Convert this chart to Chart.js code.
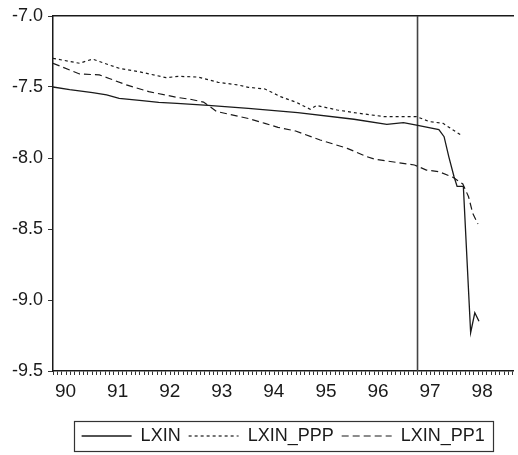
<!DOCTYPE html>
<html>
<head>
<meta charset="utf-8">
<script src="https://cdn.jsdelivr.net/npm/chart.js@4"></script>
<style>
  html, body { margin: 0; padding: 0; background: #fff; }
  #wrap { width: 518px; height: 455px; position: relative; }
</style>
</head>
<body>
<div id="wrap"><canvas id="chart"></canvas></div>
<script>
// monthly series, x in decimal years (90 = 1990:01)
const lxinX = [90.00, 90.32, 90.76, 91.03, 91.27, 91.71, 92.03, 92.38, 92.98, 93.75, 94.70, 95.78,
  96.41, 96.73, 96.98, 97.41, 97.51, 97.60, 97.70, 97.76, 97.88, 98.02, 98.10, 98.18];
const lxinY = [-7.500, -7.519, -7.540, -7.556, -7.580, -7.596, -7.608, -7.615, -7.630, -7.650, -7.680, -7.727,
  -7.763, -7.751, -7.768, -7.800, -7.850, -7.990, -8.130, -8.200, -8.200, -9.230, -9.090, -9.150];

const pppX = [90.00, 90.51, 90.76, 91.08, 91.27, 91.65, 92.17, 92.41, 92.79, 93.17, 93.56, 93.75,
  94.07, 94.37, 94.66, 94.94, 95.06, 95.46, 95.87, 96.35, 96.98, 97.22, 97.49, 97.83];
const pppY = [-7.298, -7.333, -7.303, -7.345, -7.368, -7.392, -7.434, -7.425, -7.430, -7.467, -7.486, -7.502,
  -7.514, -7.568, -7.606, -7.657, -7.630, -7.662, -7.685, -7.708, -7.708, -7.743, -7.756, -7.838];

const pp1X = [90.00, 90.51, 90.89, 91.08, 91.41, 91.84, 92.38, 92.66, 92.89, 93.14, 93.75, 94.07, 94.32,
  94.66, 95.13, 95.65, 96.03, 96.18, 96.94, 97.17, 97.41, 97.68, 97.87, 97.98, 98.06, 98.16];
const pp1Y = [-7.333, -7.408, -7.415, -7.440, -7.485, -7.533, -7.573, -7.588, -7.606, -7.672, -7.722, -7.756, -7.784,
  -7.810, -7.873, -7.932, -7.991, -8.009, -8.049, -8.085, -8.096, -8.136, -8.183, -8.273, -8.389, -8.465];

const markerX = [97, 97];
const markerY = [-7.0, -9.5];

const seriesNames = ["LXIN", "LXIN_PPP", "LXIN_PP1"];
const xMin = 90, xMax = 98.84;
const yMin = -9.5, yMax = -7.0;

const pts = (xs, ys) => xs.map((x, i) => ({ x, y: ys[i] }));
const ink = "#1a1a1a";
const font = { family: "'Liberation Sans', Arial, sans-serif", size: 18 };

// box around the legend, like the original
const legendFrame = {
  id: "legendFrame",
  afterDraw(chart) {
    const lg = chart.legend;
    if (!lg || !lg.legendHitBoxes || !lg.legendHitBoxes.length) return;
    const hb = lg.legendHitBoxes;
    const left = Math.min(...hb.map(h => h.left)) - 8;
    const right = Math.max(...hb.map(h => h.left + h.width)) + 8;
    const cy = hb[0].top + hb[0].height / 2;
    const ctx = chart.ctx;
    ctx.save();
    ctx.strokeStyle = "#333";
    ctx.lineWidth = 1.2;
    ctx.strokeRect(Math.round(left) + 0.5, Math.round(cy - 15) + 0.5, Math.round(right - left), 30);
    ctx.restore();
  }
};

new Chart(document.getElementById("chart"), {
  type: "line",
  data: {
    datasets: [
      { label: seriesNames[0], data: pts(lxinX, lxinY), borderColor: ink, borderWidth: 1.3, borderDash: [] },
      { label: seriesNames[1], data: pts(pppX, pppY), borderColor: ink, borderWidth: 1.2, borderDash: [3, 3] },
      { label: seriesNames[2], data: pts(pp1X, pp1Y), borderColor: ink, borderWidth: 1.2, borderDash: [7, 4] },
      { label: "", data: pts(markerX, markerY), borderColor: "#444", borderWidth: 1.6 }
    ]
  },
  options: {
    responsive: true,
    maintainAspectRatio: false,
    animation: false,
    elements: { point: { radius: 0 }, line: { tension: 0, fill: false } },
    layout: { padding: { top: 16, right: 0, bottom: 0, left: 0 } },
    plugins: {
      tooltip: { enabled: false },
      legend: {
        position: "bottom",
        fullSize: false,
        labels: {
          color: ink,
          font,
          usePointStyle: true,
          pointStyle: "line",
          pointStyleWidth: 50,
          padding: 8,
          filter: item => item.text !== "",
          generateLabels: chart => {
            const items = Chart.defaults.plugins.legend.labels.generateLabels(chart);
            items.forEach(it => {
              const ds = chart.data.datasets[it.datasetIndex];
              it.lineDash = ds.borderDash || [];
              it.lineWidth = ds.borderWidth;
              it.strokeStyle = ds.borderColor;
              it.pointStyle = "line";
            });
            return items;
          }
        }
      }
    },
    scales: {
      x: {
        type: "linear",
        min: xMin,
        max: xMax,
        afterBuildTicks: scale => {
          const t = [];
          for (let i = 0; 90 + i / 12 <= xMax; i++) t.push({ value: 90 + i / 12 });
          scale.ticks = t;
        },
        afterFit: scale => { scale.height = 48; },
        ticks: {
          autoSkip: false,
          maxRotation: 0,
          align: "start",
          labelOffset: 2,
          padding: 5,
          color: ink,
          font: { family: font.family, size: 19 },
          callback: v => Math.abs(v - Math.round(v)) < 1e-6 ? String(Math.round(v)) : ""
        },
        grid: { drawOnChartArea: false, drawTicks: true, tickLength: 4, tickColor: "#333" },
        border: { display: true, color: ink, width: 1.5 }
      },
      xTop: {
        type: "linear",
        position: "top",
        min: xMin,
        max: xMax,
        afterFit: scale => { scale.height = 0; },
        ticks: { display: false },
        grid: { display: false, drawTicks: false },
        border: { display: true, color: ink, width: 1.5 }
      },
      y: {
        min: yMin,
        max: yMax,
        afterFit: scale => { scale.width = 53; },
        ticks: {
          stepSize: 0.5,
          padding: 5,
          color: ink,
          font,
          callback: v => v.toFixed(1)
        },
        grid: { drawOnChartArea: false, drawTicks: true, tickLength: 5, tickColor: "#333" },
        border: { display: true, color: ink, width: 1.5 }
      }
    }
  },
  plugins: [legendFrame]
});
</script>
</body>
</html>
